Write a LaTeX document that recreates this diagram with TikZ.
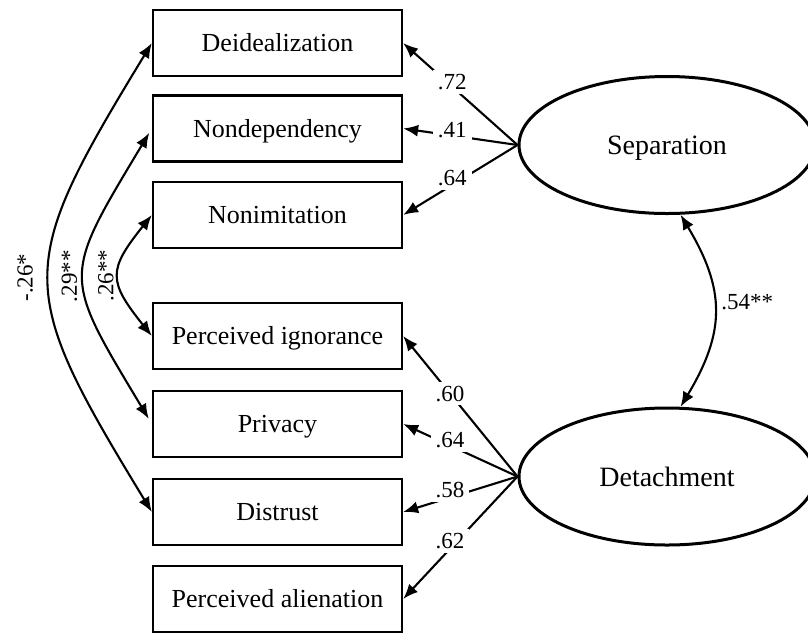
\documentclass[tikz,border=0pt]{standalone}
\usepackage{fontspec}
\setmainfont{Liberation Serif}
\usetikzlibrary{shapes.geometric,arrows.meta}
\begin{document}
\begin{tikzpicture}[x=1pt,y=-1pt,
  obs/.style={draw, line width=2.3pt, minimum width=249pt, minimum height=66pt, inner sep=0pt,
    text height=17.5pt, text depth=0pt, font=\fontsize{26}{30}\selectfont},
  lat/.style={draw, ellipse, line width=3pt, minimum width=296pt, minimum height=137pt, inner sep=0pt,
    text height=19pt, text depth=0pt, font=\fontsize{28}{32}\selectfont},
  tip/.tip={Latex[length=15pt,width=12pt]},
  conn/.style={line width=2.1pt, -tip},
  cor/.style={line width=2.1pt, tip-tip},
  lbl/.style={fill=white, inner xsep=5pt, inner ysep=4pt, font=\fontsize{23}{26}\selectfont},
  clbl/.style={font=\fontsize{23}{26}\selectfont, rotate=90, anchor=south},
]
\useasboundingbox (0,0) rectangle (808,633);
% observed variables
\node[obs] (deid) at (277.5,43) {Deidealization};
\node[obs] (nond) at (277.5,128.5) {Nondependency};
\node[obs] (noni) at (277.5,215) {Nonimitation};
\node[obs] (pign) at (277.5,336) {Perceived ignorance};
\node[obs] (priv) at (277.5,424) {Privacy};
\node[obs] (dist) at (277.5,512) {Distrust};
\node[obs] (pali) at (277.5,599) {Perceived alienation};
% latent variables
\node[lat] (sep) at (667,145) {Separation};
\node[lat] (det) at (667,476.5) {Detachment};
% loadings
\draw[conn] (sep.west) -- node[lbl, pos=0.57, yshift=5pt] {.72} (deid.east);
\draw[conn] (sep.west) -- node[lbl, pos=0.57, yshift=6pt] {.41} (nond.east);
\draw[conn] (sep.west) -- node[lbl, pos=0.57, yshift=7pt] {.64} (noni.east);
\draw[conn] (det.west) -- node[lbl, pos=0.59] {.60} (pign.east);
\draw[conn] (det.west) -- node[lbl, pos=0.59, yshift=5pt] {.64} (priv.east);
\draw[conn] (det.west) -- node[lbl, pos=0.59, yshift=7pt] {.58} (dist.east);
\draw[conn] (det.west) -- node[lbl, pos=0.59, yshift=8pt] {.62} (pali.east);
% correlations
\draw[cor] (deid.west) .. controls +(-137,225) and +(-137,-225) .. (dist.west)
  node[clbl, pos=0.5, inner sep=15pt] {-.26*};
\draw[cor, shorten <=5pt, shorten >=6pt] (nond.west) .. controls +(-90,150) and +(-90,-150) .. (priv.west)
  node[clbl, pos=0.5, inner sep=6pt] {.29**};
\draw[cor] (noni.west) .. controls +(-44,55) and +(-44,-55) .. (pign.west)
  node[clbl, pos=0.5, inner sep=4pt] {.26**};
\draw[cor] (sep.-79) .. controls +(45,75) and +(45,-75) .. (det.79)
  node[pos=0.5, anchor=west, inner sep=6pt, yshift=9pt, font=\fontsize{23}{26}\selectfont] {.54**};
\end{tikzpicture}
\end{document}
